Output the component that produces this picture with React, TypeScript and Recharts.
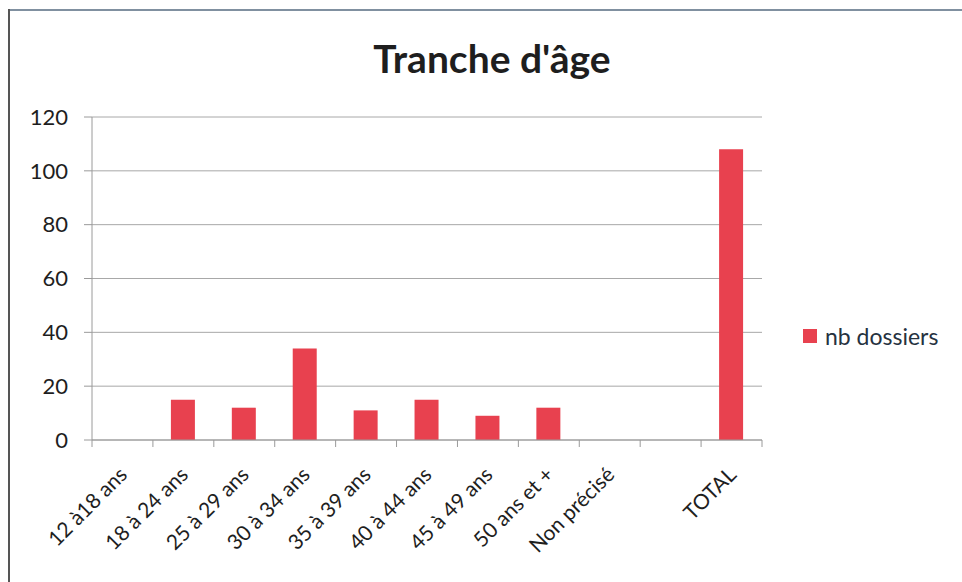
import React from 'react'
import { BarChart, Bar, XAxis, YAxis, CartesianGrid } from 'recharts'

const categories = [
  '12 à18 ans',
  '18 à 24 ans',
  '25 à 29 ans',
  '30 à 34 ans',
  '35 à 39 ans',
  '40 à 44 ans',
  '45 à 49 ans',
  '50 ans et +',
  'Non précisé',
  '',
  'TOTAL',
]
const nbDossiers = [0, 15, 12, 34, 11, 15, 9, 12, 0, 0, 108]
const yTicks = [0, 20, 40, 60, 80, 100, 120]

const data = categories.map((c, i) => ({ cat: c, nb: nbDossiers[i] }))

const FONT = 'Lato, "Open Sans", sans-serif'
const BAR = '#e8414f'
const PLOT_W = 670
const BAND = PLOT_W / categories.length

function CatTick(props: any) {
  const { x, y, payload, index } = props
  const half = BAND / 2
  const ax = x + 6
  const ay = y + 28
  return (
    <g>
      <line x1={x - half} y1={y - 8} x2={x - half} y2={y - 1} stroke="#9a9a9a" />
      {index === categories.length - 1 && (
        <line x1={x + half} y1={y - 8} x2={x + half} y2={y - 1} stroke="#9a9a9a" />
      )}
      <text
        x={ax}
        y={ay}
        textAnchor="end"
        transform={`rotate(-45 ${ax} ${ay})`}
        fill="#1e1e1e"
        fontSize={21}
        fontFamily={FONT}
      >
        {payload.value}
      </text>
    </g>
  )
}

export default function App() {
  return (
    <div style={{ position: 'absolute', left: 0, top: 0, width: 962, height: 582, background: '#fff' }}>
      <div style={{ position: 'absolute', left: 8, top: 9, right: 0, height: 2, background: '#8090a0' }} />
      <div style={{ position: 'absolute', left: 8, top: 9, bottom: 0, width: 2, background: '#555' }} />
      <div
        style={{
          position: 'absolute',
          left: 0,
          width: 984,
          top: 35,
          textAlign: 'center',
          fontFamily: FONT,
          fontWeight: 700,
          fontSize: 39,
          color: '#1e1e1e',
        }}
      >
        Tranche d'âge
      </div>
      <div
        style={{
          position: 'absolute',
          left: 803,
          top: 322,
          display: 'flex',
          alignItems: 'center',
          fontFamily: FONT,
        }}
      >
        <span style={{ width: 14, height: 14, background: BAR, display: 'inline-block', marginRight: 8 }} />
        <span style={{ fontSize: 23, color: '#26323f' }}>nb dossiers</span>
      </div>
      <BarChart
        width={962}
        height={582}
        data={data}
        margin={{ top: 117, right: 200, bottom: 42, left: 32 }}
        barSize={24}
      >
        <CartesianGrid vertical={false} stroke="#a8a8a8" />
        <XAxis
          dataKey="cat"
          interval={0}
          height={100}
          tick={<CatTick />}
          tickLine={false}
          axisLine={{ stroke: '#9a9a9a' }}
        />
        <YAxis
          width={60}
          domain={[0, 120]}
          ticks={yTicks}
          interval={0}
          tickSize={8}
          tickMargin={16}
          axisLine={{ stroke: '#9a9a9a' }}
          tickLine={{ stroke: '#9a9a9a' }}
          tick={{ fill: '#1e1e1e', fontSize: 22, fontFamily: FONT }}
        />
        <Bar dataKey="nb" fill={BAR} isAnimationActive={false} />
      </BarChart>
    </div>
  )
}
